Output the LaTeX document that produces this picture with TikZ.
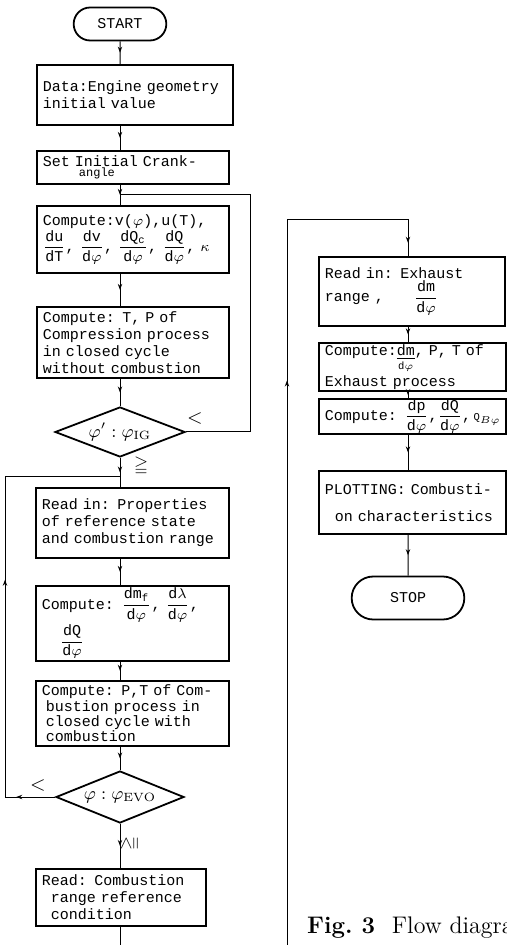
\documentclass[tikz,border=0pt]{standalone}
\usepackage{amsmath,amssymb}
\usepackage{fontspec}
\setmonofont{Liberation Mono}
\usetikzlibrary{shapes.geometric,shapes.misc,decorations.markings,arrows.meta}

\newcommand{\boxfont}{\ttfamily\fontsize{7.5}{8.5}\selectfont}
\newcommand{\dfr}[2]{$\dfrac{\mathtt{#1}}{\mathtt{#2}}$}
\newcommand{\lowfr}[2]{$\underset{\mathtt{#2}}{\underline{\mathtt{#1}}}$}

\tikzset{
  flowtip/.tip={Stealth[length=3pt,width=2.2pt]},
  box/.style={draw, line width=0.9pt, rectangle, anchor=north west, align=left,
    inner xsep=3pt, inner ysep=1pt, font=\boxfont},
  term/.style={draw, line width=0.9pt, rounded rectangle, minimum width=53pt,
    minimum height=16.5pt, font=\boxfont},
  decide/.style={draw, line width=0.9pt, diamond, shape aspect=2.6, inner sep=0pt,
    font=\fontsize{9}{9}\selectfont},
  flow/.style={line width=0.5pt, postaction={decorate},
    decoration={markings, mark=at position 0.5 with {\arrow{flowtip}}}},
  wire/.style={line width=0.5pt},
}

\begin{document}
\begin{tikzpicture}[x=0.5pt, y=-0.5pt]
  \useasboundingbox (0,0) rectangle (507,945);
  \clip (0,0) rectangle (507,945);
  % left column: compression part
  \node[term] (start) at (120,24) {START};
  \node[box, text width=92pt, minimum height=30pt] (data) at (36,64)
    {Data:Engine geometry\\initial value};
  \node[box, text width=90pt, minimum height=16.5pt] (crank) at (36,150)
    {Set Initial Crank-\\[-3.5pt]\hspace*{18pt}{\fontsize{6}{6}\selectfont angle}};
  \node[box, text width=90pt, minimum height=33.5pt] (volume) at (36,205)
    {Compute:v($\varphi$),u(T),\\\dfr{du}{dT}, \dfr{dv}{d\varphi}, \dfr{dQ_c}{d\varphi}, \dfr{dQ}{d\varphi}, $\kappa$};
  \node[box, text width=90pt, minimum height=35.5pt] (compress) at (36,306)
    {Compute: T, P of\\Compression process\\in closed cycle\\without combustion};
  \node[decide, minimum width=65pt, minimum height=25pt] (ig) at (120,432)
    {$\varphi^{\prime}:\varphi_{\mathrm{IG}}$};
  % left column: combustion part
  \node[box, text width=90.5pt, minimum height=35pt] (props) at (35,487)
    {Read in: Properties\\of reference state\\and combustion range};
  \node[box, text width=90.5pt, minimum height=34pt] (rates) at (35,585)
    {Compute: \dfr{dm_f}{d\varphi}, \dfr{d\lambda}{d\varphi},\\\hspace*{9pt}\dfr{dQ}{d\varphi}};
  \node[box, text width=90.5pt, minimum height=32.5pt, font=\ttfamily\fontsize{7.5}{7.6}\selectfont] (burn) at (35,680)
    {Compute: P,T of Com-\\\hspace*{2pt}bustion process in\\\hspace*{2pt}closed cycle with\\\hspace*{2pt}combustion};
  \node[decide, minimum width=64pt, minimum height=26pt] (evo) at (120,797)
    {$\varphi:\varphi_{\mathrm{EVO}}$};
  \node[box, text width=79pt, minimum height=28.5pt] (refcond) at (35,868)
    {Read: Combustion\\\hspace*{4.5pt}range reference\\\hspace*{4.5pt}condition};
  \coordinate (offpage) at (120,945);
  % right column: exhaust part
  \node[box, text width=87pt, minimum height=34.5pt] (exhaust) at (318,256)
    {Read in: Exhaust\\range ,\hspace*{15pt}\dfr{dm}{d\varphi}};
  \node[box, text width=87.5pt, minimum height=21pt, inner ysep=1pt, font=\ttfamily\fontsize{7.5}{7}\selectfont] (exhproc) at (318,342)
    {Compute:\lowfr{dm}{d\varphi}, P, T of\\Exhaust process};
  \node[box, text width=87.5pt, minimum height=17.5pt, inner ysep=0pt] (heat) at (318,398)
    {\mbox{Compute: \dfr{dp}{d\varphi},\dfr{dQ}{d\varphi},\,$\scriptstyle\mathtt{Q}_{B\varphi}$}};
  \node[box, text width=87.5pt, minimum height=31.5pt] (plot) at (318,470)
    {PLOTTING: Combusti-\\[5pt]\hspace*{5pt}on characteristics};
  \node[term, minimum width=63pt, minimum height=21.5pt] (stop) at (408,598) {STOP};
  \node[anchor=base west, font=\fontsize{12}{12}\selectfont] (caption) at (300,933)
    {\textbf{Fig.~3}\hspace{0.7em}Flow diagram};
  % branch labels
  \node[font=\fontsize{10}{10}\selectfont] (lt1) at (195,418) {$<$};
  \node[font=\fontsize{9}{9}\selectfont] (ge1) at (141,466) {$\geqq$};
  \node[font=\fontsize{10}{10}\selectfont] (lt2) at (38,785) {$<$};
  \node[font=\fontsize{9}{9}\selectfont, rotate=90] (ge2) at (130,843) {$\geqq$};
  % straight flow
  \draw[flow] (start) -- (data.north -| start);
  \draw[flow] (data.south -| start) -- (crank.north -| start);
  \draw[flow] (crank.south -| start) -- (volume.north -| start);
  \draw[flow] (volume.south -| start) -- (compress.north -| start);
  \draw[flow] (compress.south -| start) -- (ig);
  \draw[flow] (ig) -- (props.north -| start);
  \draw[flow] (props.south -| start) -- (rates.north -| start);
  \draw[flow] (rates.south -| start) -- (burn.north -| start);
  \draw[flow] (burn.south -| start) -- (evo);
  \draw[flow] (evo) -- (refcond.north -| start);
  \draw[wire] (refcond.south -| start) -- (offpage);
  \draw[flow] (exhaust.south -| stop) -- (exhproc.north -| stop);
  \draw[flow] (exhproc.south -| stop) -- (heat.north -| stop);
  \draw[flow] (heat.south -| stop) -- (plot.north -| stop);
  \draw[flow] (plot.south -| stop) -- (stop);
  % loops
  \coordinate (loopA) at (250,195);
  \draw[wire] (ig.east) -| (loopA) -- (loopA -| start);
  \coordinate (loopB) at (5,476);
  \draw[wire, postaction={decorate}, decoration={markings,
      mark=at position 0.08 with {\arrow{flowtip}},
      mark=at position 0.55 with {\arrow{flowtip}}}]
    (evo.west) -| (loopB) -- (loopB -| start);
  \coordinate (cont) at (287,945);
  \coordinate (loopC) at (287,220);
  \draw[wire, postaction={decorate}, decoration={markings,
      mark=at position 0.64 with {\arrow{flowtip}},
      mark=at position 0.985 with {\arrow{flowtip}}}]
    (cont) -- (loopC) -| (exhaust.north -| stop);
\end{tikzpicture}
\end{document}
